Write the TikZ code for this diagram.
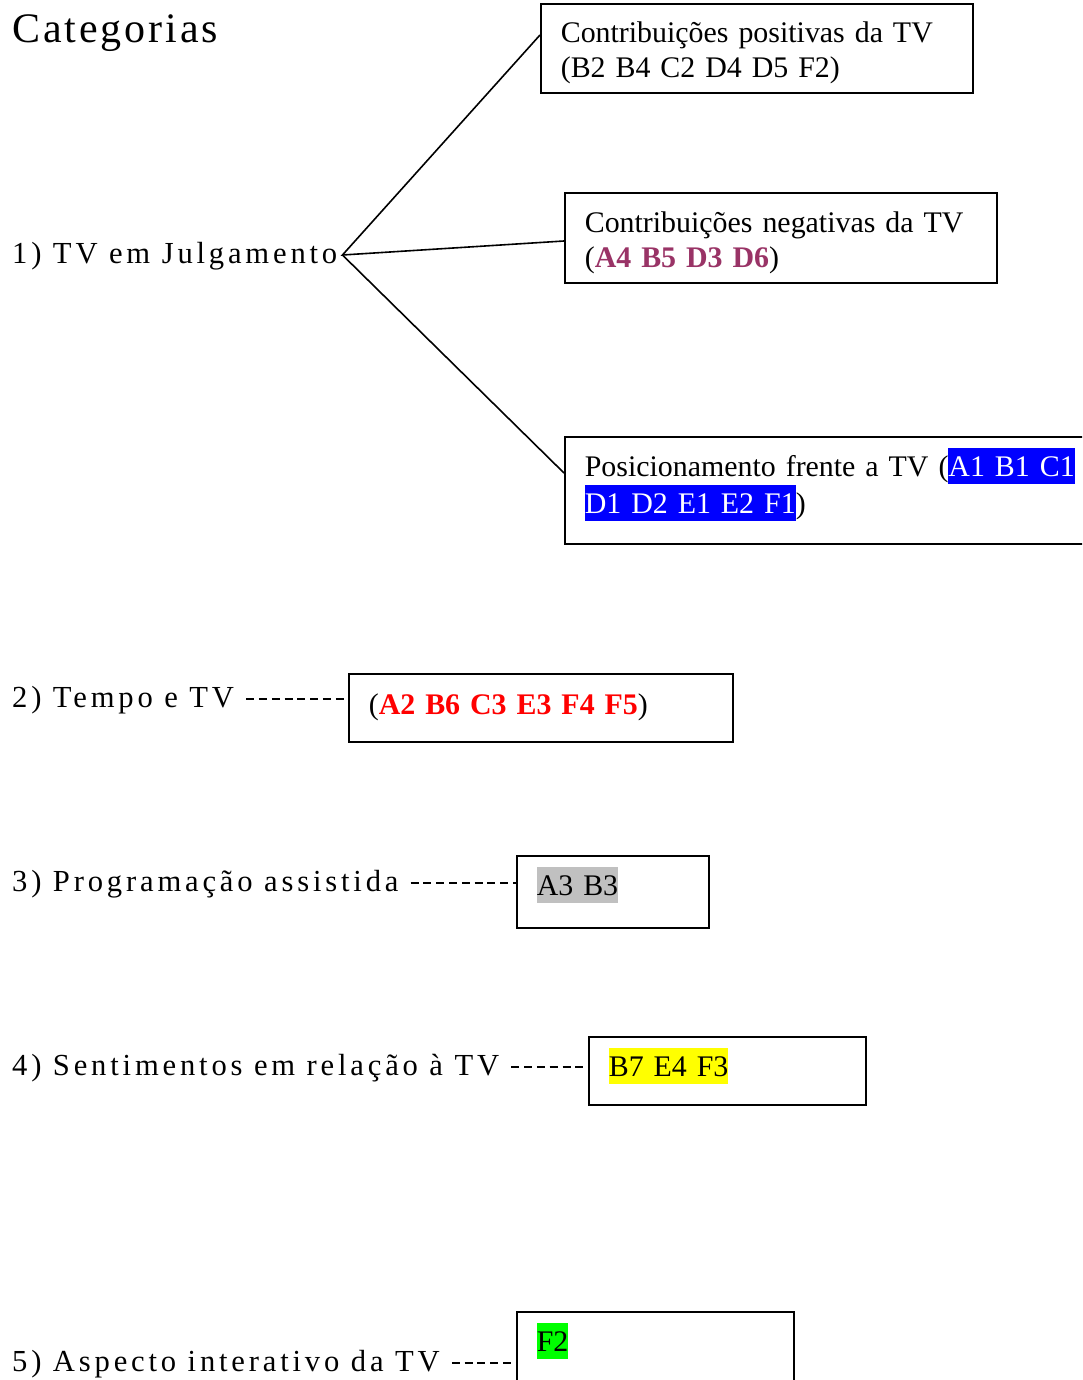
\documentclass[tikz,border=0pt]{standalone}
\usepackage{fontspec}
\setmainfont{Liberation Serif}
\newfontfamily\tvlabelfont[LetterSpace=12.5]{Liberation Serif}
\newfontfamily\tvtitlefont[LetterSpace=7]{Liberation Serif}
\usepackage{xcolor}
\definecolor{tvneg}{HTML}{993366}
\definecolor{tvred}{HTML}{FF0000}
\definecolor{tvblue}{HTML}{0000FF}
\definecolor{tvgray}{HTML}{C0C0C0}
\definecolor{tvyellow}{HTML}{FFFF00}
\definecolor{tvgreen}{HTML}{00FF00}
\usepackage{tikz}
\usetikzlibrary{positioning,calc}
\newcommand{\tvmark}[3][black]{{\setlength{\fboxsep}{0pt}\colorbox{#2}{\color{#1}\rule[-7pt]{0pt}{36pt}#3}}}
\tikzset{
  tvbox/.style={draw,line width=1.6pt,anchor=north west,inner xsep=20pt,inner ysep=0pt,align=left,font={\fontsize{29.9}{35}\selectfont},text height=40pt},
  tvlabel/.style={anchor=base west,inner sep=0pt,font={\tvlabelfont\fontsize{30.6}{35}\selectfont}},
  tvfan/.style={line width=1.6pt},
  tvdash/.style={line width=2pt,dash pattern=on 8pt off 4.8pt},
}

\begin{document}
\begin{tikzpicture}[x=1pt,y=-1pt]
\useasboundingbox (0,0) rectangle (1082,1380);
\clip (0,0) rectangle (1082,1380);
\node[anchor=base west,inner sep=0pt,font={\tvtitlefont\fontsize{42}{48}\selectfont}] (title) at (12,43) {Categorias};

% 1) TV em Julgamento, three branches
\node[tvlabel] (julg) at (12,263) {1) TV em Julgamento};
\node[tvbox,text width=392pt,text height=39pt,text depth=50pt] (pos) at (540,3) {Contribuições positivas da TV\\(B2 B4 C2 D4 D5 F2)};
\node[tvbox,text width=392pt,text depth=50pt] (neg) at (564,192) {Contribuições negativas da TV\\(\textcolor{tvneg}{\textbf{A4 B5 D3 D6}})};
\node[tvbox,text width=520pt,text depth=67pt] (posic) at (564,436) {Posicionamento frente a TV (\tvmark[white]{tvblue}{A1 B1 C1}\\\tvmark[white]{tvblue}{D1 D2 E1 E2 F1})};
\coordinate (fan) at ([xshift=5pt,yshift=8pt]julg.base east);
\draw[tvfan] ([yshift=-32pt]pos.north west) -- (fan) -- ([yshift=-49pt]neg.north west);
\draw[tvfan] (fan) -- ([yshift=-37pt]posic.north west);

% the other categories
\node[tvlabel] (tempol) at (12,707) {2) Tempo e TV};
\node[tvbox,text width=344pt,text height=41pt,text depth=27pt] (tempo) at (348,673) {(\textcolor{tvred}{\textbf{A2 B6 C3 E3 F4 F5}})};
\node[tvlabel] (progl) at (12,891) {3) Programação assistida};
\node[tvbox,text width=152pt,text depth=32pt] (prog) at (516,855) {\tvmark{tvgray}{A3 B3}};
\node[tvlabel] (sentl) at (12,1075) {4) Sentimentos em relação à TV};
\node[tvbox,text width=237pt,text depth=28pt] (sent) at (588,1036) {\tvmark{tvyellow}{B7 E4 F3}};
\node[tvlabel] (interl) at (12,1371) {5) Aspecto interativo da TV};
\node[tvbox,text width=237pt,text depth=80pt] (inter) at (516,1311) {\tvmark{tvgreen}{F2}};

\draw[tvdash] ([xshift=12pt,yshift=8.5pt]tempol.base east) -- ([yshift=8.5pt]tempol.base east -| tempo.west);
\draw[tvdash] ([xshift=12pt,yshift=8.5pt]progl.base east) -- ([yshift=8.5pt]progl.base east -| prog.west);
\draw[tvdash] ([xshift=12pt,yshift=8.5pt]sentl.base east) -- ([yshift=8.5pt]sentl.base east -| sent.west);
\draw[tvdash] ([xshift=12pt,yshift=8.5pt]interl.base east) -- ([yshift=8.5pt]interl.base east -| inter.west);
\end{tikzpicture}
\end{document}
